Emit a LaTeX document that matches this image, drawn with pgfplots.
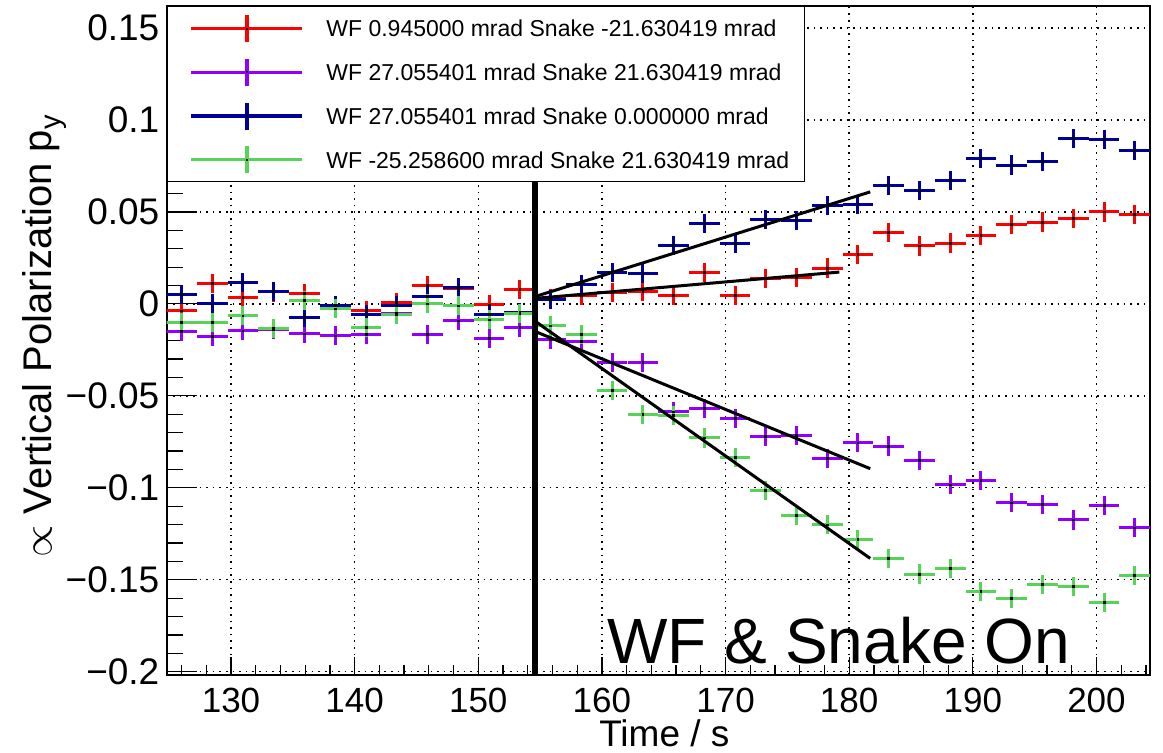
\documentclass[border=0pt]{standalone}
\usepackage{fontspec}
\setmainfont{Liberation Sans}
\usepackage{pgfplots}
\usepackage{pgfplotstable}
\pgfplotsset{compat=1.18}
\definecolor{cred}{RGB}{255,0,0}
\definecolor{cpur}{RGB}{145,0,255}
\definecolor{cblu}{RGB}{0,0,153}
\definecolor{cgrn}{RGB}{87,212,87}
\newcommand{\legcross}[1]{%
  \path[draw=none,fill=none] (-4.5pt,-5.5pt) rectangle (55.5pt,5.5pt);
  \draw[overlay,draw=#1,line width=1.7pt] (0pt,0pt) -- (55.5pt,0pt);
  \draw[overlay,draw=#1,line width=1.7pt] (27.75pt,-6.75pt) -- (27.75pt,6.75pt);
  \fill[overlay,black,draw=none] (27.25pt,-0.5pt) rectangle (28.25pt,0.5pt);
}
\pgfplotsset{
  dat/.style={only marks, mark=square*, mark size=0.45pt,
    mark options={black,fill=black,draw=black},
    error bars/x dir=both, error bars/x explicit,
    error bars/y dir=both, error bars/y explicit,
    error bars/error mark=none,
    error bars/error bar style={#1, line width=1.5pt},
    legend image code/.code={\legcross{#1}}},
}
\pgfplotstableread{
x red pur blu grn
126.00 -0.0038 -0.0150 0.0053 -0.0101
128.49 0.0112 -0.0178 0.0000 -0.0101
130.97 0.0034 -0.0147 0.0116 -0.0065
133.46 0.0065 -0.0138 0.0067 -0.0132
135.95 0.0058 -0.0163 -0.0072 0.0018
138.44 -0.0009 -0.0174 -0.0011 -0.0027
140.92 -0.0036 -0.0168 -0.0060 -0.0127
143.41 0.0009 -0.0051 -0.0011 -0.0060
145.90 0.0100 -0.0165 0.0040 0.0000
148.38 0.0085 -0.0092 0.0091 -0.0011
150.87 -0.0005 -0.0187 -0.0056 -0.0087
153.36 0.0080 -0.0127 -0.0045 -0.0051
155.84 0.0030 -0.0193 0.0024 -0.0120
158.33 0.0045 -0.0205 0.0104 -0.0165
160.82 0.0060 -0.0320 0.0169 -0.0469
163.31 0.0069 -0.0320 0.0167 -0.0600
165.79 0.0045 -0.0587 0.0318 -0.0605
168.28 0.0173 -0.0569 0.0436 -0.0729
170.77 0.0045 -0.0624 0.0327 -0.0833
173.25 0.0140 -0.0720 0.0460 -0.1015
175.74 0.0142 -0.0715 0.0455 -0.1151
178.23 0.0195 -0.0842 0.0533 -0.1202
180.71 0.0269 -0.0756 0.0542 -0.1282
183.20 0.0387 -0.0773 0.0645 -0.1384
185.69 0.0315 -0.0851 0.0618 -0.1469
188.18 0.0331 -0.0984 0.0673 -0.1438
190.66 0.0373 -0.0960 0.0791 -0.1564
193.15 0.0433 -0.1082 0.0755 -0.1600
195.64 0.0445 -0.1091 0.0773 -0.1527
198.12 0.0464 -0.1175 0.0900 -0.1538
200.61 0.0500 -0.1096 0.0895 -0.1624
203.10 0.0487 -0.1218 0.0833 -0.1478
}\data
\begin{document}
\begin{tikzpicture}
% y ticks (longer than the x ticks), drawn first so the legend covers them
\begin{axis}[
  at={(0pt,0pt)}, anchor=south west,
  scale only axis, width=491.65pt, height=334.5pt,
  xmin=124.8, xmax=204.33, ymin=-0.2018, ymax=0.162,
  axis line style={draw=none},
  xtick=\empty,
  ytick={-0.2,-0.15,-0.1,-0.05,0,0.05,0.1,0.15},
  minor ytick={-0.19,-0.18,...,0.16},
  yticklabels={},
  tick align=inside, ytick pos=left,
  major tick length=15pt, minor tick length=8pt,
  ytick style={black, line width=0.6pt},
]
\addplot[draw=none, forget plot] coordinates {(130,0)};
\end{axis}
\begin{axis}[
  name=ax,
  at={(0pt,0pt)}, anchor=south west,
  scale only axis, width=491.65pt, height=334.5pt,
  xmin=124.8, xmax=204.33, ymin=-0.2018, ymax=0.162,
  axis line style={line width=1pt},
  xtick={130,140,...,200},
  minor xtick={126,128,...,204},
  ytick={-0.2,-0.15,-0.1,-0.05,0,0.05,0.1,0.15},
  yticklabels={−0.2,−0.15,−0.1,−0.05,0,0.05,0.1,0.15},
  ytick style={draw=none},
  tick align=inside, tick pos=left,
  major tick length=9pt, minor tick length=5pt,
  xtick style={black, line width=0.6pt},
  xmajorgrids, ymajorgrids,
  grid style={black, line width=0.7pt, dash pattern=on 0.8pt off 2.5pt},
  /pgf/number format/assume math mode=true,
  xticklabel style={font=\fontsize{17.5}{17.5}\selectfont, inner sep=0pt, anchor=north, yshift=-6.5pt},
  yticklabel style={font=\fontsize{18.5}{18.5}\selectfont, inner sep=0pt, anchor=east, xshift=-3.5pt},
  legend style={at={(0,1)}, anchor=north west, draw=black, line width=0.7pt, fill=white,
    inner xsep=7.5pt, inner ysep=5.5pt,
    font=\fontsize{11.5}{11.5}\selectfont,
    row sep=10.85pt, column sep=12pt,
    nodes={inner sep=0pt, text depth={}}},
  legend cell align=left,
]
\addplot[dat=cred] table[x=x, y=red, x error expr=1.24, y error expr=0.0052] {\data};
\addlegendentry{WF 0.945000 mrad Snake -21.630419 mrad}
\addplot[dat=cpur] table[x=x, y=pur, x error expr=1.24, y error expr=0.0052] {\data};
\addlegendentry{WF 27.055401 mrad Snake 21.630419 mrad}
\addplot[dat=cblu] table[x=x, y=blu, x error expr=1.24, y error expr=0.0052] {\data};
\addlegendentry{WF 27.055401 mrad Snake 0.000000 mrad}
\addplot[dat=cgrn] table[x=x, y=grn, x error expr=1.24, y error expr=0.0052] {\data};
\addlegendentry{WF -25.258600 mrad Snake 21.630419 mrad}
\addplot[black, line width=1.5pt, forget plot] coordinates {(154.6,0.0040) (181.7,0.0609)};
\addplot[black, line width=1.5pt, forget plot] coordinates {(154.6,0.0030) (179.2,0.0173)};
\addplot[black, line width=1.5pt, forget plot] coordinates {(154.6,-0.0150) (181.7,-0.0896)};
\addplot[black, line width=1.5pt, forget plot] coordinates {(154.6,-0.0094) (181.7,-0.1384)};
\addplot[black, line width=3pt, forget plot] coordinates {(154.6,-0.21) (154.6,0.17)};
\node[anchor=base west, inner sep=0pt, font=\fontsize{32}{32}\selectfont] at (axis cs:160.42,-0.1957) {WF \& Snake On};
\end{axis}
\node[anchor=base, inner sep=0pt, font=\fontsize{18.5}{18.5}\selectfont] at ([xshift=3pt,yshift=-36pt]ax.south) {Time / s};
\node[anchor=base, rotate=90, inner sep=0pt, font=\fontsize{20}{20}\selectfont] at ([xshift=-57.5pt,yshift=2pt]ax.west) {$\propto$ Vertical Polarization p\raisebox{-0.4ex}{\fontsize{14.5}{14.5}\selectfont y}};
\pgfresetboundingbox
\path[use as bounding box] ([shift={(-83.35pt,-39pt)}]ax.south west) rectangle ++(581.5pt,376.5pt);
\end{tikzpicture}
\end{document}
